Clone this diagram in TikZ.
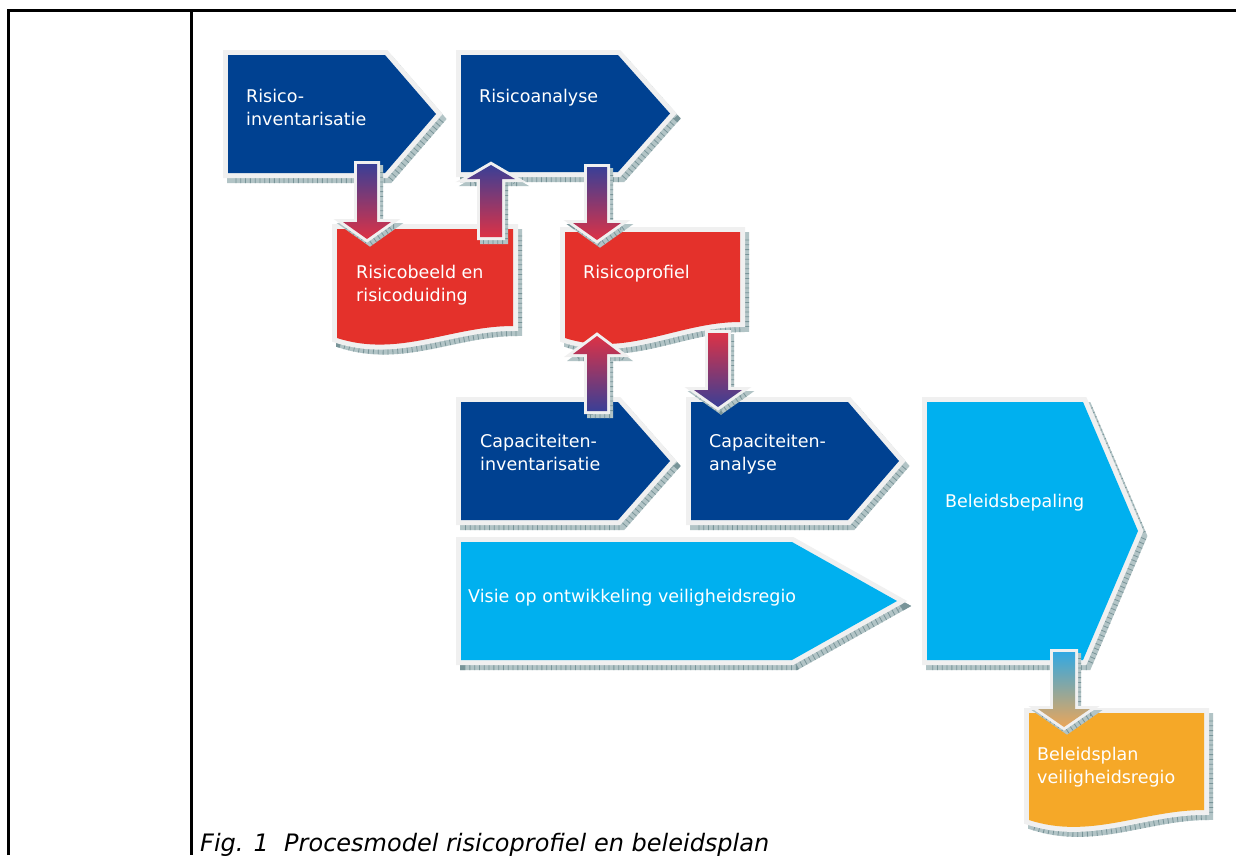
\documentclass[tikz,border=0pt]{standalone}
\usepackage{fontspec}
\newfontfamily\dvs{DejaVu Sans}
\definecolor{dblue}{RGB}{0,65,145}
\definecolor{rred}{RGB}{228,49,43}
\definecolor{lblue}{RGB}{0,176,239}
\definecolor{orng}{RGB}{245,168,40}
\definecolor{rimc}{RGB}{240,240,240}
\definecolor{shadowc}{RGB}{178,196,198}
\definecolor{tickc}{RGB}{120,148,152}
\definecolor{arblue}{RGB}{58,63,150}
\definecolor{arred}{RGB}{220,50,70}
\definecolor{arlblue}{RGB}{50,168,226}
\definecolor{artan}{RGB}{234,166,90}
\tikzset{
  rim/.style={draw=rimc, line width=10pt, line join=miter},
  sband/.style={draw=shadowc, line width=10pt, line join=miter},
  stick/.style={draw=tickc, line width=10pt, dash pattern=on 0.8pt off 4pt},
  arim/.style={draw=rimc, line width=6pt, line join=miter},
  asband/.style={draw=shadowc, line width=6pt, line join=miter},
  astick/.style={draw=tickc, line width=6pt, dash pattern=on 0.8pt off 4pt},
  lbl/.style={text=white, font=\dvs\fontsize{17.5}{22.5}\selectfont, align=left, inner sep=0pt, anchor=north west},
  frame/.style={line width=3pt, draw=black}
}
% pentagon (arrow box): x1,y1,x2,xtip,y2,colour
\newcommand\pentshape[6]{%
  \draw[sband, shift={(4,5)}] (#1,#2) -- (#3,#2) -- (#4,{(#2+#5)/2}) -- (#3,#5) -- (#1,#5) -- cycle;
  \draw[stick, shift={(4,5)}] (#1,#2) -- (#3,#2) -- (#4,{(#2+#5)/2}) -- (#3,#5) -- (#1,#5) -- cycle;
  \draw[rim] (#1,#2) -- (#3,#2) -- (#4,{(#2+#5)/2}) -- (#3,#5) -- (#1,#5) -- cycle;
  \fill[#6] (#1,#2) -- (#3,#2) -- (#4,{(#2+#5)/2}) -- (#3,#5) -- (#1,#5) -- cycle;
}
% document shape: x1,y1,x2,yleft,yright,colour
\newcommand\docshape[6]{%
  \draw[sband, shift={(4,5)}] (#1,#2) -- (#3,#2) -- (#3,#5) .. controls ({#1+0.65*(#3-#1)},#5) and ({#1+0.35*(#3-#1)},{#4+20}) .. (#1,#4) -- cycle;
  \draw[stick, shift={(4,5)}] (#1,#2) -- (#3,#2) -- (#3,#5) .. controls ({#1+0.65*(#3-#1)},#5) and ({#1+0.35*(#3-#1)},{#4+20}) .. (#1,#4) -- cycle;
  \draw[rim] (#1,#2) -- (#3,#2) -- (#3,#5) .. controls ({#1+0.65*(#3-#1)},#5) and ({#1+0.35*(#3-#1)},{#4+20}) .. (#1,#4) -- cycle;
  \fill[#6] (#1,#2) -- (#3,#2) -- (#3,#5) .. controls ({#1+0.65*(#3-#1)},#5) and ({#1+0.35*(#3-#1)},{#4+20}) .. (#1,#4) -- cycle;
}
% block arrow: cx, ystart, yheadbase, ytip, halfshaft, halfhead, topcolour, bottomcolour
\newcommand\blockarrow[8]{%
  \draw[asband, shift={(3,4)}] ({#1-#5},#2) -- ({#1+#5},#2) -- ({#1+#5},#3) -- ({#1+#6},#3) -- (#1,#4) -- ({#1-#6},#3) -- ({#1-#5},#3) -- cycle;
  \draw[astick, shift={(3,4)}] ({#1-#5},#2) -- ({#1+#5},#2) -- ({#1+#5},#3) -- ({#1+#6},#3) -- (#1,#4) -- ({#1-#6},#3) -- ({#1-#5},#3) -- cycle;
  \draw[arim] ({#1-#5},#2) -- ({#1+#5},#2) -- ({#1+#5},#3) -- ({#1+#6},#3) -- (#1,#4) -- ({#1-#6},#3) -- ({#1-#5},#3) -- cycle;
  \shade[top color=#7, bottom color=#8] ({#1-#5},#2) -- ({#1+#5},#2) -- ({#1+#5},#3) -- ({#1+#6},#3) -- (#1,#4) -- ({#1-#6},#3) -- ({#1-#5},#3) -- cycle;
}
\begin{document}
\begin{tikzpicture}[x=1pt, y=-1pt]
\useasboundingbox (0,0) rectangle (1236,855);
\clip (0,0) rectangle (1236,855);
\fill[white] (0,0) rectangle (1236,855);
% table frame
\draw[frame] (8,855) -- (8,10) -- (1236,10);
\draw[frame] (191,10) -- (191,855);

% shapes
\pentshape{228}{55}{385}{436}{173}{dblue}
\pentshape{461}{55}{618}{670}{172}{dblue}
\docshape{337}{229}{513}{338}{326}{rred}
\docshape{565}{232}{740}{338}{322}{rred}
\pentshape{461}{402}{618}{670}{520}{dblue}
\pentshape{691}{402}{848}{899}{520}{dblue}
\pentshape{927}{402}{1083}{1138}{660}{lblue}
\pentshape{461}{542}{792}{897}{660}{lblue}
\docshape{1029}{713}{1204}{820}{810}{orng}

% labels
\node[lbl] (inv) at (246,89) {Risico-\\inventarisatie};
\node[lbl] (ana) at (479,89) {Risicoanalyse};
\node[lbl] (beeld) at (356,265) {Risicobeeld en\\risicoduiding};
\node[lbl] (prof) at (583,265) {Risicoprofiel};
\node[lbl] (capinv) at (480,434) {Capaciteiten-\\inventarisatie};
\node[lbl] (capana) at (709,434) {Capaciteiten-\\analyse};
\node[lbl] (bep) at (945,494) {Beleidsbepaling};
\node[lbl] (visie) at (468,589) {Visie op ontwikkeling veiligheidsregio};
\node[lbl] (plan) at (1037,747) {Beleidsplan\\veiligheidsregio};

% block arrows
\blockarrow{367}{164}{222}{239}{10}{24}{arblue}{arred}
\blockarrow{491}{237}{179}{165}{11}{24}{arblue}{arred}
\blockarrow{597}{167}{223}{240}{10}{24}{arblue}{arred}
\blockarrow{597}{411}{354}{336}{10}{24}{arred}{arblue}
\blockarrow{718}{333}{390}{407}{10}{24}{arred}{arblue}
\blockarrow{1064}{652}{709}{727}{11}{26}{arlblue}{artan}

% caption
\node[anchor=base west, inner sep=0pt, font=\dvs\itshape\fontsize{24}{28}\selectfont] (cap) at (200,851) {Fig. 1\ \ Procesmodel risicoprofiel en beleidsplan};
\end{tikzpicture}
\end{document}
